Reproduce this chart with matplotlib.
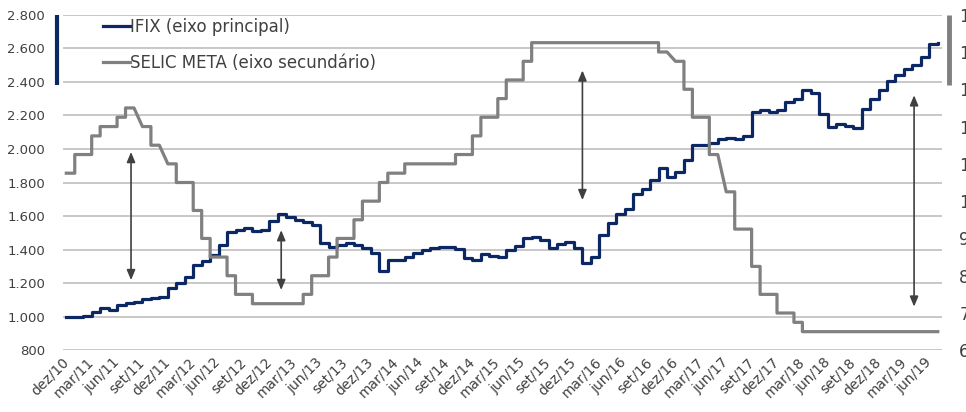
import matplotlib.pyplot as plt
import matplotlib.lines as mlines
import numpy as np
import pandas as pd

# Monthly axis, dez/10 .. jul/19
months = pd.period_range('2010-12', '2019-07', freq='M')
pt_months = ['jan', 'fev', 'mar', 'abr', 'mai', 'jun',
             'jul', 'ago', 'set', 'out', 'nov', 'dez']

# IFIX monthly level (pts)
ifix = [1000, 1000, 1003, 1030, 1054, 1040, 1070, 1083, 1088, 1108,
        1110, 1120, 1169, 1199, 1238, 1307, 1333, 1366, 1426, 1505,
        1515, 1529, 1509, 1515, 1568, 1610, 1594, 1574, 1565, 1546,
        1437, 1417, 1427, 1437, 1427, 1408, 1378, 1275, 1337, 1341,
        1357, 1377, 1397, 1408, 1413, 1417, 1401, 1348, 1337, 1373,
        1361, 1357, 1397, 1421, 1467, 1476, 1456, 1410, 1433, 1447,
        1407, 1320, 1357, 1486, 1556, 1615, 1645, 1734, 1764, 1813,
        1889, 1833, 1863, 1932, 2026, 2024, 2038, 2058, 2066, 2061,
        2075, 2220, 2234, 2220, 2234, 2280, 2300, 2353, 2334, 2210,
        2131, 2151, 2137, 2127, 2240, 2300, 2353, 2405, 2439, 2479,
        2502, 2548, 2623, 2631]

# Copom decisions (Selic meta, % a.a.)
selic_start = 10.75
copom_dates = ['2011-01-19', '2011-03-02', '2011-04-20', '2011-06-08', '2011-07-20',
               '2011-08-31', '2011-10-19', '2011-11-30', '2012-01-18', '2012-03-07',
               '2012-04-18', '2012-05-30', '2012-07-11', '2012-08-29', '2012-10-10',
               '2013-04-17', '2013-05-29', '2013-07-10', '2013-08-28', '2013-10-09',
               '2013-11-27', '2014-01-15', '2014-02-26', '2014-04-02', '2014-10-29',
               '2014-12-03', '2015-01-21', '2015-03-04', '2015-04-29', '2015-06-03',
               '2015-07-29', '2016-10-19', '2016-11-30', '2017-01-11', '2017-02-22',
               '2017-04-12', '2017-05-31', '2017-07-26', '2017-09-06', '2017-10-25',
               '2017-12-06', '2018-02-07', '2018-03-21']
copom_rates = [11.25, 11.75, 12.00, 12.25, 12.50,
               12.00, 11.50, 11.00, 10.50, 9.75,
               9.00, 8.50, 8.00, 7.50, 7.25,
               7.50, 8.00, 8.50, 9.00, 9.50,
               10.00, 10.50, 10.75, 11.00, 11.25,
               11.75, 12.25, 12.75, 13.25, 13.75,
               14.25, 14.00, 13.75, 13.00, 12.25,
               11.25, 10.25, 9.25, 8.25, 7.50,
               7.00, 6.75, 6.50]

# gap annotations: (month index, top, bottom) on the IFIX scale
gap_arrows = [(7.65, 1982, 1218), (25.4, 1516, 1159),
              (61.0, 2468, 1695), (100.2, 2320, 1060)]

NAVY = '#0b2865'
GRAY = '#808080'
TXT = '#404040'

k = np.arange(len(months))
tick_idx = list(range(0, len(months), 3))
tick_lbl = [f"{pt_months[months[i].month - 1]}/{months[i].year % 100:02d}" for i in tick_idx]

# Selic effective the day after the meeting; each month drawn at one x
eff = pd.to_datetime(copom_dates) + pd.Timedelta(days=1)


def selic_on(day):
    rate = selic_start
    for d, r in zip(eff, copom_rates):
        if d <= day:
            rate = r
    return rate


sx, sy = [], []
for i, m in enumerate(months):
    sx += [i, i]
    sy += [selic_on(m.start_time), selic_on(m.end_time.normalize())]

W, H = 966, 412
fig = plt.figure(figsize=(W / 100, H / 100), dpi=100)
ax = fig.add_axes([63 / W, 1 - 350.3 / H, (942 - 63) / W, (350.3 - 14.7) / H])
ax2 = ax.twinx()

ax.set_xlim(-0.39, 103.5)
ax.set_ylim(800, 2800)
ax2.set_ylim(6, 15)

ax.set_yticks(np.arange(800, 2801, 200))
ax.set_yticklabels([f"{v:,.0f}".replace(',', '.') for v in np.arange(800, 2801, 200)])
ax2.set_yticks(np.arange(6, 16, 1))
ax.set_xticks(tick_idx)
ax.set_xticklabels(tick_lbl, rotation=45, ha='right', va='center',
                   rotation_mode='anchor')

ax.grid(axis='y', color='#c8c8c8', lw=1.4)
ax.set_axisbelow(True)
for a in (ax, ax2):
    for s in a.spines.values():
        s.set_visible(False)
ax.tick_params(axis='y', length=0, pad=13, labelsize=9.5, labelcolor=TXT)
ax.tick_params(axis='x', length=0, pad=7, labelsize=10, labelcolor=TXT)
ax2.tick_params(axis='y', length=0, pad=12.5, labelsize=12, labelcolor=TXT)

l1, = ax.step(k, ifix, where='post', color=NAVY, lw=2.3, zorder=3,
              label='IFIX (eixo principal)')
l2, = ax2.plot(sx, sy, color=GRAY, lw=2.3, zorder=2,
               label='SELIC META (eixo secundário)')

for xk, top, bot in gap_arrows:
    ax.annotate('', xy=(xk, top), xytext=(xk, bot),
                arrowprops=dict(arrowstyle='<|-|>,head_length=0.6,head_width=0.25',
                                color='#404040', lw=1.2, shrinkA=0, shrinkB=0),
                zorder=5)

ax2.legend([l1, l2], [l1.get_label(), l2.get_label()], loc='upper left',
           bbox_to_anchor=(103 / W, 1 - 18 / H), bbox_transform=fig.transFigure,
           frameon=False, fontsize=12, handlelength=1.6, handletextpad=0.05,
           labelspacing=1.1, borderaxespad=0, borderpad=0,
           labelcolor=TXT)

# axis colour keys beside each scale
fig.add_artist(mlines.Line2D([57 / W, 57 / W], [1 - 15 / H, 1 - 85 / H],
                             color=NAVY, lw=3, solid_capstyle='butt'))
fig.add_artist(mlines.Line2D([949 / W, 949 / W], [1 - 15 / H, 1 - 85 / H],
                             color=GRAY, lw=3.5, solid_capstyle='butt'))

fig.savefig('out.png', dpi=100)
